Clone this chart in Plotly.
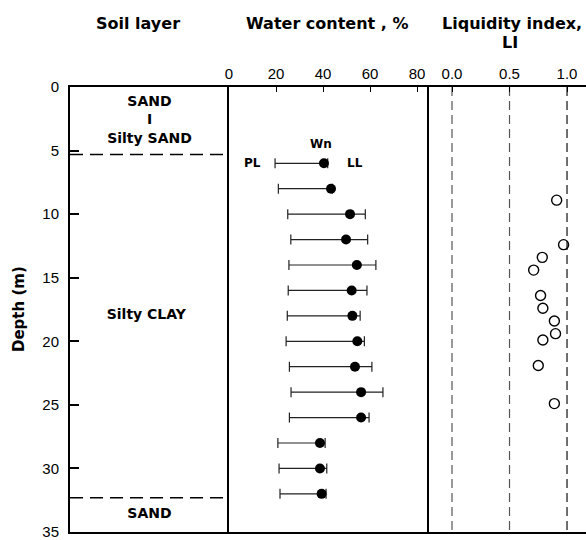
import plotly.graph_objects as go

# ---- data ----
depth_w = [6, 8, 10, 12, 14, 16, 18, 20, 22, 24, 26, 28, 30, 32]
pl = [19.6, 21, 25, 26.3, 25.5, 25.2, 24.8, 24.3, 25.7, 26.4, 25.7, 20.8, 21.3, 21.7]
wn = [40.4, 43.4, 51.5, 49.8, 54.4, 52.2, 52.5, 54.6, 53.6, 56.2, 56.2, 38.7, 38.7, 39.4]
ll = [42, 44, 58, 59, 62.5, 58.7, 55.8, 57.6, 60.8, 65.5, 59.6, 40.9, 41.6, 41.3]

depth_li = [8.9, 12.4, 13.4, 14.4, 16.4, 17.4, 18.4, 19.4, 19.9, 21.9, 24.9]
li = [0.91, 0.97, 0.785, 0.71, 0.77, 0.79, 0.89, 0.90, 0.79, 0.75, 0.89]

layer_bounds = [5.3, 32.3]
layer_names = ["SAND", "I", "Silty SAND", "Silty CLAY", "SAND"]
layer_label_depths = [1.25, 2.6, 4.15, 18.0, 33.6]
layer_label_x = [0.5, 0.5, 0.5, 0.48, 0.5]
li_refs = [0.0, 0.5, 1.0]
depth_ticks = [0, 5, 10, 15, 20, 25, 30, 35]
wc_ticks = [0, 20, 40, 60, 80]
li_ticks = [0.0, 0.5, 1.0]
li_ticktext = ["0.0", "0.5", "1.0"]

FONT = "Liberation Sans, Arial, Helvetica, sans-serif"
BFONT = "DejaVu Sans, Liberation Sans, sans-serif"
W, H = 586, 540
L, T, B = 70, 87, 6
PW, PH = W - L, H - T - B
d1 = (0, 159 / PW)
d2 = (159 / PW, 359 / PW)
d3 = (359 / PW, 1)


def px(xp):
    return (xp - L) / PW


def py(yp):
    return (H - B - yp) / PH


fig = go.Figure()

# layer boundaries
for b in layer_bounds:
    fig.add_trace(go.Scatter(x=[0, 1], y=[b, b], mode="lines", xaxis="x", yaxis="y",
                             line=dict(color="black", width=1.5, dash="13px,7px"),
                             showlegend=False, hoverinfo="skip"))

# layer labels
fig.add_trace(go.Scatter(x=layer_label_x, y=layer_label_depths, mode="text", text=layer_names,
                         xaxis="x", yaxis="y", showlegend=False,
                         textfont=dict(family=BFONT, size=14, color="black", weight="bold")))

# water content
err_plus = [l - w for l, w in zip(ll, wn)]
err_minus = [w - p for w, p in zip(wn, pl)]
fig.add_trace(go.Scatter(x=wn, y=depth_w, mode="markers", xaxis="x2", yaxis="y2",
                         marker=dict(color="black", size=10),
                         error_x=dict(type="data", symmetric=False, array=err_plus,
                                      arrayminus=err_minus, color="#222", thickness=1.2, width=5),
                         showlegend=False))

# LI reference lines
for i, r in enumerate(li_refs):
    fig.add_trace(go.Scatter(x=[r, r], y=[0, 35], mode="lines", xaxis="x3", yaxis="y3",
                             line=dict(color="#555" if i < 2 else "#111", width=1.2, dash="9px,5px"),
                             showlegend=False, hoverinfo="skip"))

# LI points
fig.add_trace(go.Scatter(x=li, y=depth_li, mode="markers", xaxis="x3", yaxis="y3",
                         marker=dict(symbol="circle-open", color="black", size=10,
                                     line=dict(width=1.4, color="black")),
                         showlegend=False))

common_x = dict(side="top", showline=True, mirror=True, linewidth=2, linecolor="black",
                showgrid=False, zeroline=False, ticks="inside", ticklen=5, tickcolor="black",
                ticklabeloverflow="allow",
                tickfont=dict(family=FONT, size=15, color="black"))
common_y = dict(range=[35, 0], showgrid=False, zeroline=False, showline=True,
                linewidth=2, linecolor="black")

fig.update_layout(
    width=W, height=H,
    margin=dict(l=L, r=0, t=T, b=B),
    plot_bgcolor="white", paper_bgcolor="white",
    xaxis=dict(**{**common_x, "ticks": "", "showticklabels": False}, domain=d1, range=[0, 1], anchor="y"),
    xaxis2=dict(**common_x, domain=d2, range=[0, 85.1], tickvals=wc_ticks, anchor="y2"),
    xaxis3=dict(**common_x, domain=d3, range=[-0.2, 1.165], tickvals=li_ticks,
                ticktext=li_ticktext, anchor="y3"),
    yaxis=dict(**common_y, anchor="x", tickvals=depth_ticks, ticks="inside", ticklen=9,
               tickwidth=1.5, tickcolor="black", ticklabelstandoff=6, ticklabeloverflow="allow",
               tickfont=dict(family=FONT, size=15, color="black")),
    yaxis2=dict(**common_y, anchor="x2", matches="y", showticklabels=False),
    yaxis3=dict(**common_y, anchor="x3", matches="y", showticklabels=False),
    font=dict(family=FONT, color="black"),
)

anns = [
    ("Soil layer", 138, 23),
    ("Water content , %", 327, 23),
    ("Liquidity index,", 512, 23),
    ("LI", 510, 42),
]
for t, x, y in anns:
    fig.add_annotation(text=f"<b>{t}</b>", x=px(x), y=py(y), xref="paper", yref="paper",
                       showarrow=False, xanchor="center", yanchor="middle",
                       font=dict(family=BFONT, size=16, color="black"))
fig.add_annotation(text="<b>Depth (m)</b>", x=px(19), y=py(310), xref="paper", yref="paper",
                   showarrow=False, textangle=-90, xanchor="center", yanchor="middle",
                   font=dict(family=BFONT, size=15, color="black"))

# Wn / PL / LL labels inside water panel
for t, xv, yv in [("Wn", 39, 4.5), ("PL", 10.2, 6.0), ("LL", 53.6, 6.0)]:
    fig.add_annotation(text=f"<b>{t}</b>", x=xv, y=yv, xref="x2", yref="y2", showarrow=False,
                       font=dict(family=BFONT, size=12, color="black"))

fig.write_html("out.html")
